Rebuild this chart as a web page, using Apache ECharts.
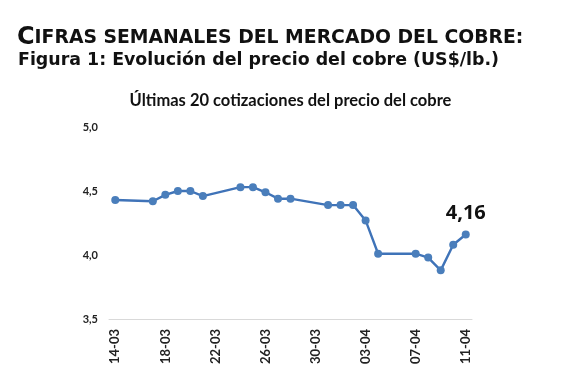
<!DOCTYPE html>
<html><head><meta charset="utf-8">
<script src="https://cdn.jsdelivr.net/npm/echarts@6/dist/echarts.min.js"></script>
<style>html,body{margin:0;padding:0;background:#fff}#c{width:581px;height:379px}</style>
</head><body><div id="c"></div>
<script>
var categories = ['14-03','15-03','16-03','17-03','18-03','19-03','20-03','21-03','22-03','23-03','24-03','25-03','26-03','27-03','28-03','29-03','30-03','31-03','01-04','02-04','03-04','04-04','05-04','06-04','07-04','08-04','09-04','10-04','11-04'];
var prices = [4.43,null,null,4.42,4.47,4.50,4.50,4.46,null,null,4.53,4.53,4.49,4.44,4.44,null,null,4.39,4.39,4.39,4.27,4.01,null,null,4.01,3.98,3.88,4.08,4.16];
var yTicks = [3.5,4.0,4.5,5.0];
var lastLabel = '4,16';

var labelStyle = {show:true, formatter:lastLabel, position:'top', distance:7,
  fontFamily:'Open Sans', fontWeight:700, fontSize:20, color:'#111'};
var data = prices.map(function(v,i){
  if (i === prices.length-1) return {value:v, label:labelStyle};
  return v;
});
var chart = echarts.init(document.getElementById('c'));
chart.setOption({
  animation:false,
  title:[
    {left:12, top:21, text:'{b|C}{s|IFRAS SEMANALES DEL MERCADO DEL COBRE:}',
     textStyle:{rich:{b:{fontFamily:'DejaVu Sans',fontWeight:'bold',fontSize:24,color:'#111'},s:{fontFamily:'DejaVu Sans',fontWeight:'bold',fontSize:18.8,color:'#111'}}}},
    {left:13, top:47, text:'Figura 1: Evolución del precio del cobre (US$/lb.)',
     textStyle:{fontFamily:'DejaVu Sans',fontWeight:'bold',fontSize:17.4,color:'#111'}},
    {left:'center', top:87, text:'Últimas 20 cotizaciones del precio del cobre',
     textStyle:{fontFamily:'Lato',fontWeight:'bold',fontSize:16.5,color:'#111'}}
  ],
  grid:{left:109,right:109,top:127,bottom:60},
  xAxis:{type:'category',data:categories,boundaryGap:true,
    axisLine:{lineStyle:{color:'#d9d9d9'}},
    axisTick:{interval:3,length:5,lineStyle:{color:'#d9d9d9'}},
    axisLabel:{interval:3,rotate:90,margin:10,fontFamily:'Lato',fontWeight:'bold',fontSize:13,color:'#222'}},
  yAxis:{type:'value',min:yTicks[0],max:yTicks[yTicks.length-1],interval:0.5,
    axisLine:{show:false},axisTick:{show:false},splitLine:{show:false},
    axisLabel:{margin:11,fontFamily:'Lato',fontWeight:'bold',fontSize:11,color:'#222',
      formatter:function(v){return v.toFixed(1).replace('.',',');}}},
  series:[{type:'line',data:data,connectNulls:true,symbol:'circle',symbolSize:8,
    itemStyle:{color:'#4a7ebb'},lineStyle:{color:'#3f73b8',width:2.4},
    label:{show:false}}]
});
</script></body></html>
